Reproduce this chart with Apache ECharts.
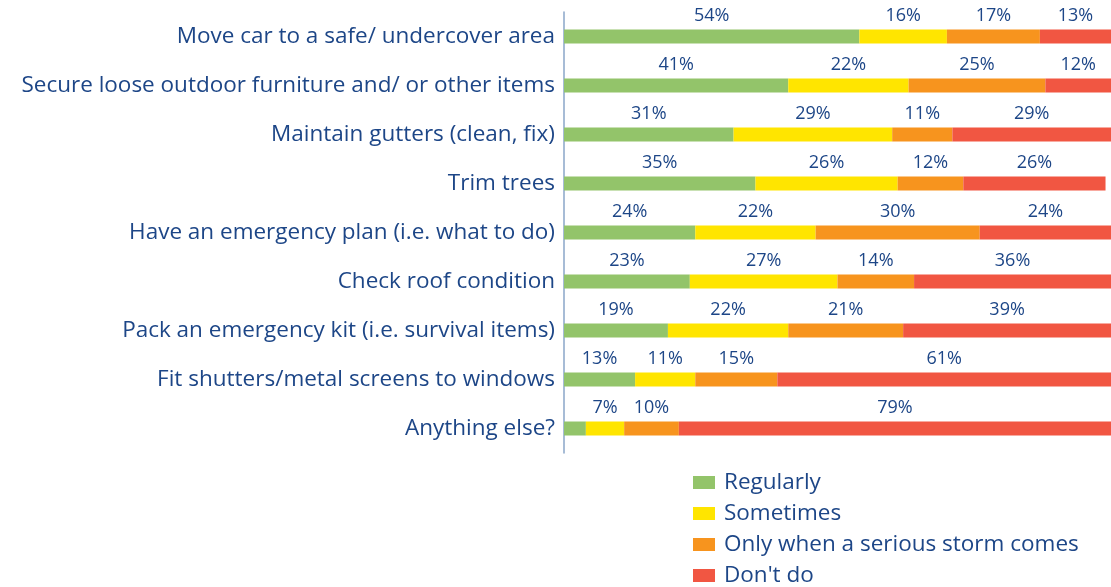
<!DOCTYPE html>
<html>
<head>
<meta charset="utf-8">
<script src="https://cdn.jsdelivr.net/npm/echarts@6/dist/echarts.min.js"></script>
<style>
  html, body { margin: 0; padding: 0; background: #fff; }
  #chart { width: 1111px; height: 587px; }
</style>
</head>
<body>
<div id="chart"></div>
<script>
const categories = [
  'Move car to a safe/ undercover area',
  'Secure loose outdoor furniture and/ or other items',
  'Maintain gutters (clean, fix)',
  'Trim trees',
  'Have an emergency plan (i.e. what to do)',
  'Check roof condition',
  'Pack an emergency kit (i.e. survival items)',
  'Fit shutters/metal screens to windows',
  'Anything else?'
]
const regularly = [54, 41, 31, 35, 24, 23, 19, 13, 4]
const sometimes = [16, 22, 29, 26, 22, 27, 22, 11, 7]
const onlyStorm = [17, 25, 11, 12, 30, 14, 21, 15, 10]
const dontDo = [13, 12, 29, 26, 24, 36, 39, 61, 79]

const seriesNames = ['Regularly', 'Sometimes', 'Only when a serious storm comes', "Don't do"]
const seriesColors = ['#93c46a', '#ffe500', '#f7941e', '#f15642']
const seriesData = [regularly, sometimes, onlyStorm, dontDo]

const textColor = '#1d4687'
const fontFamily = '"Open Sans", sans-serif'

const chart = echarts.init(document.getElementById('chart'))

const option = {
  animation: false,
  grid: { left: 564, right: 0, top: 12, bottom: 134 },
  legend: {
    orient: 'vertical',
    left: 688,
    top: 466,
    height: 200,
    itemWidth: 22,
    itemHeight: 13,
    itemGap: 8,
    icon: 'rect',
    textStyle: { color: textColor, fontSize: 22.5, fontFamily: fontFamily, lineHeight: 22, padding: [0, 0, 0, 4] },
    data: seriesNames
  },
  xAxis: {
    type: 'value',
    min: 0,
    max: 100,
    show: false
  },
  yAxis: {
    type: 'category',
    inverse: true,
    data: categories,
    axisLine: { show: true, lineStyle: { color: '#8aa6c8', width: 1.5 } },
    axisTick: { show: false },
    axisLabel: { color: textColor, fontSize: 22.5, fontFamily: fontFamily, margin: 9 }
  },
  series: seriesNames.map((name, i) => ({
    name: name,
    type: 'bar',
    stack: 'total',
    barWidth: 14,
    data: seriesData[i],
    itemStyle: { color: seriesColors[i] },
    label: {
      show: true,
      position: 'top',
      distance: 5,
      color: textColor,
      fontSize: 18,
      fontFamily: fontFamily,
      formatter: p => (p.value < 5 ? '' : p.value + '%')
    }
  }))
}

chart.setOption(option)
</script>
</body>
</html>
